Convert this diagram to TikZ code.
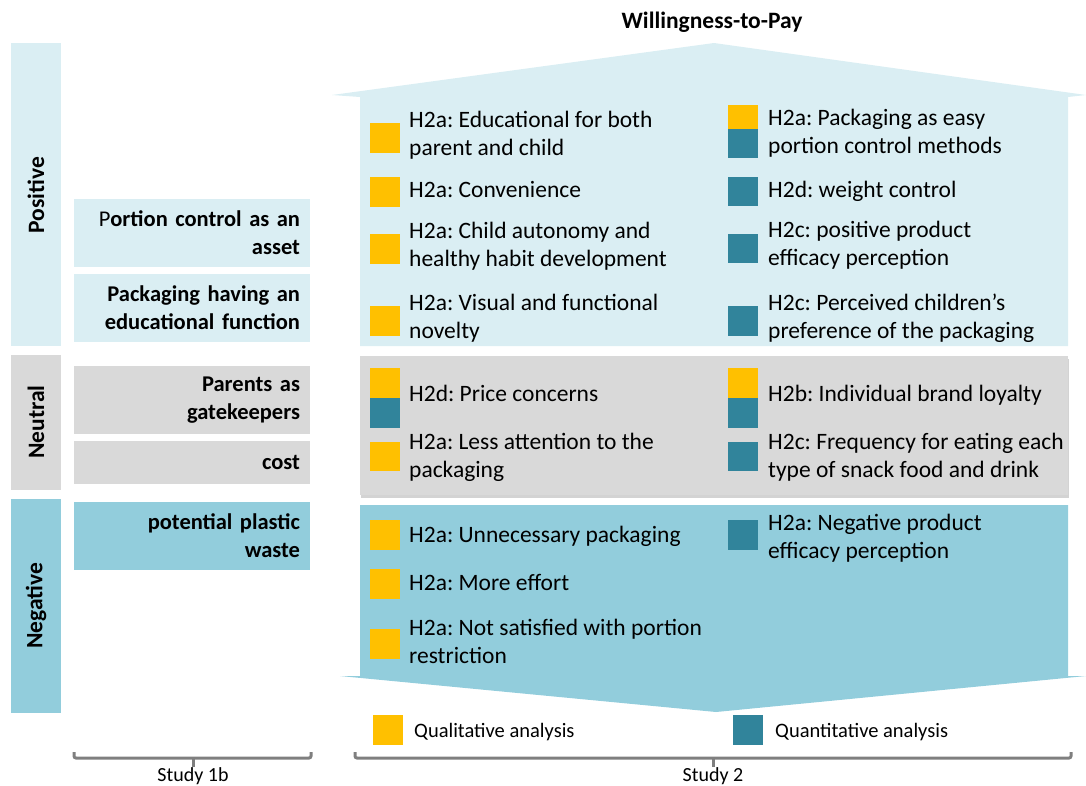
\documentclass[tikz,border=0pt]{standalone}
\usepackage{fontspec}
\setmainfont{Carlito}
\frenchspacing
\usetikzlibrary{shadows,positioning}
\definecolor{poslight}{HTML}{DAEEF3}
\definecolor{neugray}{HTML}{D9D9D9}
\definecolor{negblue}{HTML}{92CDDC}
\definecolor{qualyellow}{HTML}{FFC000}
\definecolor{quantteal}{HTML}{31849B}
\definecolor{bracegray}{HTML}{7F7F7F}
\tikzstyle{side} = [inner sep=0pt, rotate=90, font=\bfseries\fontsize{23.5}{26}\selectfont]
\tikzstyle{theme} = [minimum width=236pt, minimum height=68pt, text width=216pt,
inner xsep=10pt, inner ysep=0pt, align=right, font=\bfseries\fontsize{22.5}{28}\selectfont]
\tikzstyle{item} = [anchor=base west, inner sep=0pt, align=left,
font=\fontsize{23.5}{28}\selectfont]
\tikzstyle{qual} = [fill=qualyellow]
\tikzstyle{quant} = [fill=quantteal]
\tikzstyle{brace} = [draw=bracegray, line width=3pt, rounded corners=2pt]

\begin{document}
\begin{tikzpicture}[x=1pt, y=-1pt]
    \useasboundingbox (0,0) rectangle (1086,785);
    % valence bars
    \fill[poslight] (11,43) rectangle (61,346);
    \fill[neugray] (11,355) rectangle (61,490);
    \fill[negblue] (11,499) rectangle (61,713);
    \node[side] (pos) at (36,195) {Positive};
    \node[side] (neu) at (36,422) {Neutral};
    \node[side] (neg) at (36,606) {Negative};

    % study 1b themes
    \node[theme, fill=poslight] (asset) at (192,233) {{\mdseries P}ortion control as an\\asset\hspace*{5pt}};
    \node[theme, fill=poslight] (educ) at (192,308) {Packaging having an\\educational function};
    \node[theme, fill=neugray] (gate) at (192,400) {Parents as\\gatekeepers\hspace*{5pt}};
    \node[theme, fill=neugray, minimum height=43pt] (cost) at (192,462.5) {cost};
    \node[theme, fill=negblue] (waste) at (192,535.5) {potential plastic\\waste};

    % study 2 shapes
    \fill[poslight] (332,95) -- (714,43) -- (1086,95) -- (1068,97) -- (1068,346)
        -- (360,346) -- (360,97) -- cycle;
    \fill[neugray, drop shadow={shadow xshift=1pt, shadow yshift=-2.5pt, opacity=0.35}]
        (360,356) rectangle (1068,495);
    \fill[negblue] (360,505) -- (1068,505) -- (1068,676) -- (1086,676) -- (716,712)
        -- (340,676) -- (360,676) -- cycle;
    \node[font=\bfseries\fontsize{23.5}{26}\selectfont] (wtp) at (712,22) {Willingness-to-Pay};

    % positive
    \fill[qual] (370,123) rectangle (400,153);
    \fill[qual] (370,177) rectangle (400,207);
    \fill[qual] (370,234) rectangle (400,264);
    \fill[qual] (370,306) rectangle (400,336);
    \node[item] (p1) at (409,155) {H2a: Educational for both\\parent and child};
    \node[item] (p2) at (409,197) {H2a: Convenience};
    \node[item] (p3) at (409,266) {H2a: Child autonomy and\\healthy habit development};
    \node[item] (p4) at (409,338) {H2a: Visual and functional\\novelty};
    \fill[qual] (728,105) rectangle (758,129);
    \fill[quant] (728,129) rectangle (758,158);
    \fill[quant] (728,177) rectangle (758,206);
    \fill[quant] (728,234) rectangle (758,263);
    \fill[quant] (728,306) rectangle (758,336);
    \node[item] (p5) at (768,153) {H2a: Packaging as easy\\portion control methods};
    \node[item] (p6) at (768,197) {H2d: weight control};
    \node[item] (p7) at (768,265) {H2c: positive product\\efficacy perception};
    \node[item] (p8) at (768,338) {H2c: Perceived children’s\\preference of the packaging};

    % neutral
    \fill[qual] (370,368) rectangle (400,398);
    \fill[quant] (370,398) rectangle (400,428);
    \fill[qual] (370,442) rectangle (400,471);
    \node[item] (n1) at (409,401) {H2d: Price concerns};
    \node[item] (n2) at (409,477) {H2a: Less attention to the\\packaging};
    \fill[qual] (728,368) rectangle (758,398);
    \fill[quant] (728,398) rectangle (758,428);
    \fill[quant] (728,442) rectangle (758,471);
    \node[item] (n3) at (768,401) {H2b: Individual brand loyalty};
    \node[item] (n4) at (768,477) {H2c: Frequency for eating each\\type of snack food and drink};

    % negative
    \fill[qual] (370,520) rectangle (400,550);
    \fill[qual] (370,569) rectangle (400,599);
    \fill[qual] (370,629) rectangle (400,659);
    \node[item] (g1) at (409,542) {H2a: Unnecessary packaging};
    \node[item] (g2) at (409,590) {H2a: More effort};
    \node[item] (g3) at (409,663) {H2a: Not satisfied with portion\\restriction};
    \fill[quant] (728,520) rectangle (758,550);
    \node[item] (g4) at (768,558) {H2a: Negative product\\efficacy perception};

    % legend
    \fill[qual] (373,715) rectangle (403,745);
    \fill[quant] (733,715) rectangle (763,745);
    \node[item, font=\fontsize{20.5}{23}\selectfont] (lqual) at (414,737) {Qualitative analysis};
    \node[item, font=\fontsize{20.5}{23}\selectfont] (lquant) at (775,737) {Quantitative analysis};

    % study brackets
    \draw[brace] (74,752) -- (74,758) -- (311,758) -- (311,752);
    \draw[brace] (355,752) -- (355,758) -- (1071,758) -- (1071,752);
    \draw[draw=bracegray, line width=3pt] (193,757) -- (193,767);
    \draw[draw=bracegray, line width=3pt] (713,757) -- (713,767);
    \node[font=\fontsize{20}{22}\selectfont] (s1b) at (193,776) {Study 1b};
    \node[font=\fontsize{20}{22}\selectfont] (s2) at (713,776) {Study 2};
\end{tikzpicture}
\end{document}
